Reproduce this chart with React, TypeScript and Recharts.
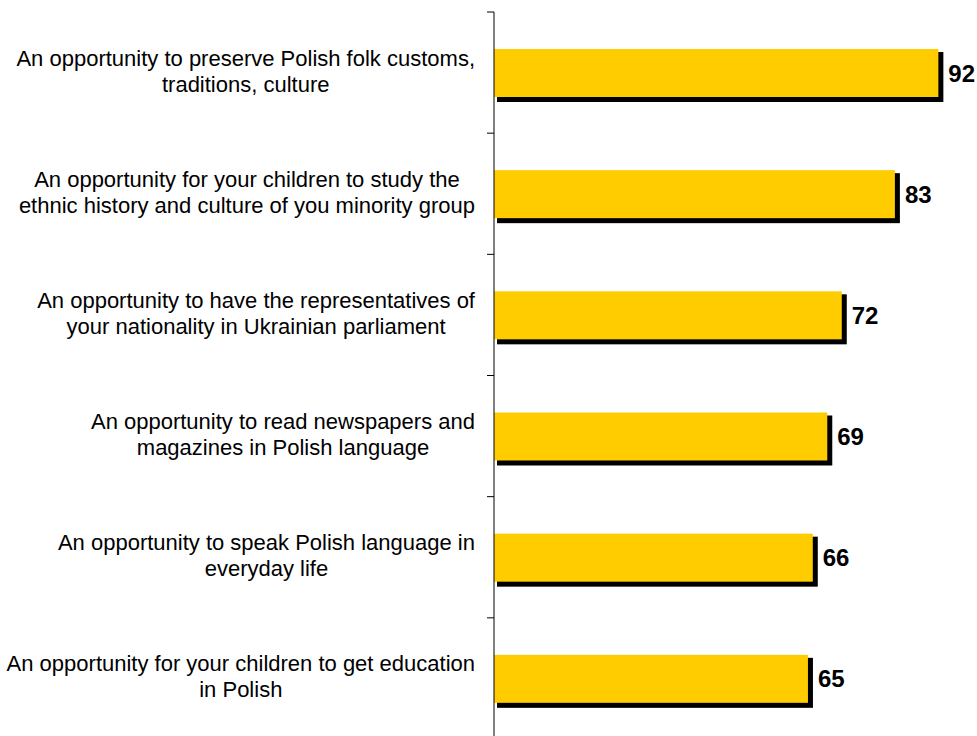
import { BarChart, Bar, XAxis, YAxis, LabelList } from "recharts";

const categories = [
  "An opportunity to preserve Polish folk customs,\ntraditions, culture",
  "An opportunity for your children to study the\nethnic history and culture of you minority group",
  "An opportunity to have the representatives of\nyour nationality in Ukrainian parliament",
  "An opportunity to read newspapers and\nmagazines in Polish language",
  "An opportunity to speak Polish language in\neveryday life",
  "An opportunity for your children to get education\nin Polish",
];
const values = [92, 83, 72, 69, 66, 65];

const data = categories.map((name, i) => ({ name, value: values[i] }));

const WIDTH = 977;
const HEIGHT = 740;
const TOP = 12;
const BOTTOM = 1;
const AXIS_W = 494;
const BAND = (HEIGHT - TOP - BOTTOM) / categories.length;
const FONT = "'Liberation Sans', Arial, Helvetica, sans-serif";
const LABEL_FONT = `22px ${FONT}`;

let ctx: CanvasRenderingContext2D | null = null;
function textWidth(s: string) {
  if (!ctx) ctx = document.createElement("canvas").getContext("2d");
  if (!ctx) return s.length * 10;
  ctx.font = LABEL_FONT;
  return ctx.measureText(s).width;
}

// two-line labels, centred on each other, block right-aligned near the axis
const CategoryTick = ({ y, payload }: any) => {
  const lines = String(payload.value).split("\n");
  const maxW = Math.max(...lines.map(textWidth));
  const cx = AXIS_W - 19 - maxW / 2;
  const n = lines.length;
  return (
    <g>
      <line x1={AXIS_W - 7} x2={AXIS_W} y1={y - BAND / 2} y2={y - BAND / 2} stroke="#000" />
      <text textAnchor="middle" fill="#000" style={{ font: LABEL_FONT }}>
        {lines.map((l, i) => (
          <tspan key={i} x={cx} y={y + 6 + (i - (n - 1) / 2) * 26}>
            {l}
          </tspan>
        ))}
      </text>
    </g>
  );
};

const ShadowBar = ({ x, y, width, height }: any) => (
  <g>
    <rect x={x + 3} y={y + 3} width={width + 2} height={height + 2} fill="#000" />
    <rect x={x} y={y} width={width} height={height} fill="#FFCC00" />
  </g>
);

export default function App() {
  return (
    <div
      style={{
        position: "absolute",
        left: 0,
        top: 0,
        width: WIDTH,
        height: 736,
        overflow: "hidden",
        background: "#fff",
      }}
    >
      <BarChart
        width={WIDTH}
        height={HEIGHT}
        data={data}
        layout="vertical"
        margin={{ top: TOP, right: 0, bottom: BOTTOM, left: 0 }}
      >
        <XAxis type="number" domain={[0, 100]} hide />
        <YAxis
          type="category"
          dataKey="name"
          width={AXIS_W}
          interval={0}
          tickLine={false}
          axisLine={{ stroke: "#000" }}
          tick={<CategoryTick />}
        />
        <Bar dataKey="value" barSize={48} shape={<ShadowBar />} isAnimationActive={false}>
          <LabelList
            dataKey="value"
            position="right"
            offset={10}
            fill="#000"
            style={{ fontWeight: "bold", fontSize: 24, fontFamily: FONT, fill: "#000" }}
          />
        </Bar>
      </BarChart>
    </div>
  );
}
